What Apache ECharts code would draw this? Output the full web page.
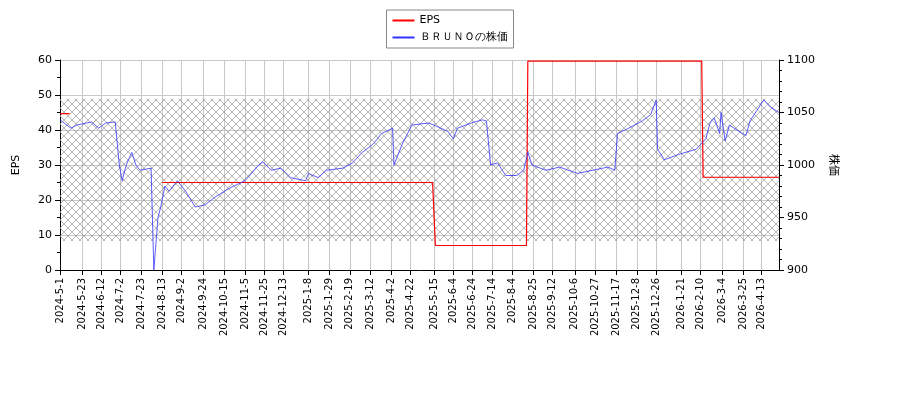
<!DOCTYPE html>
<html><head><meta charset="utf-8">
<script src="https://cdn.jsdelivr.net/npm/echarts@6/dist/echarts.min.js"></script>
<style>html,body{margin:0;background:#fff}#c{width:900px;height:400px}</style>
</head><body><div id="c"></div>
<script>
const tickLabels = ['2024-5-1','2024-5-23','2024-6-12','2024-7-2','2024-7-23','2024-8-13','2024-9-2','2024-9-24','2024-10-15','2024-11-5','2024-11-25','2024-12-13','2025-1-8','2025-1-29','2025-2-19','2025-3-12','2025-4-2','2025-4-22','2025-5-15','2025-6-4','2025-6-24','2025-7-14','2025-8-4','2025-8-25','2025-9-12','2025-10-6','2025-10-27','2025-11-17','2025-12-8','2025-12-26','2026-1-21','2026-2-10','2026-3-4','2026-3-25','2026-4-13'];
const priceDates = ['2024-5-1','2024-5-13','2024-5-17','2024-6-3','2024-6-10','2024-6-17','2024-6-26','2024-7-1','2024-7-3','2024-7-8','2024-7-12','2024-7-17','2024-7-22','2024-8-1','2024-8-5','2024-8-8','2024-8-12','2024-8-15','2024-8-20','2024-8-28','2024-9-5','2024-9-16','2024-9-25','2024-10-7','2024-10-21','2024-11-5','2024-11-19','2024-11-22','2024-12-2','2024-12-11','2024-12-20','2025-1-6','2025-1-8','2025-1-17','2025-1-27','2025-2-12','2025-2-21','2025-3-4','2025-3-14','2025-3-24','2025-4-3','2025-4-4','2025-4-14','2025-4-23','2025-5-9','2025-5-15','2025-5-29','2025-6-4','2025-6-9','2025-6-23','2025-7-3','2025-7-8','2025-7-11','2025-7-18','2025-7-28','2025-8-7','2025-8-14','2025-8-19','2025-8-22','2025-9-5','2025-9-19','2025-10-8','2025-10-23','2025-11-7','2025-11-14','2025-11-18','2025-11-28','2025-12-12','2025-12-22','2025-12-26','2025-12-29','2026-1-5','2026-1-19','2026-2-5','2026-2-16','2026-2-19','2026-2-24','2026-3-2','2026-3-3','2026-3-6','2026-3-11','2026-3-27','2026-4-1','2026-4-15','2026-4-22','2026-4-30'];
const priceValues = [1043,1035,1038,1041,1035,1040,1041,1000,985,1000,1012,1000,995,997,900,950,960,980,975,985,975,960,962,970,978,985,1000,1003,995,997,988,985,992,988,995,997,1002,1012,1020,1030,1035,1000,1020,1038,1040,1038,1032,1025,1035,1040,1043,1042,1000,1002,990,990,995,1012,1000,995,998,992,995,998,995,1030,1035,1042,1048,1062,1015,1005,1010,1015,1025,1040,1045,1030,1050,1023,1038,1028,1042,1062,1055,1050];
const epsDates = ['2024-5-1','2024-5-13','2024-8-13','2025-5-16','2025-8-19','2026-2-12'];
const epsValues = [44.7,null,25,7,59.7,26.5];

function key(s){const p=s.split('-').map(Number);return p[0]*10000+p[1]*100+p[2];}
const cats=[];
for(let d=new Date(Date.UTC(2024,4,1)); d<=new Date(Date.UTC(2026,3,30)); d.setUTCDate(d.getUTCDate()+1)){
  const w=d.getUTCDay(); if(w===0||w===6) continue;
  cats.push(d.getUTCFullYear()+'-'+(d.getUTCMonth()+1)+'-'+d.getUTCDate());
}
const catKeys=cats.map(key);
function idxOf(s){const k=key(s);for(let i=0;i<catKeys.length;i++) if(catKeys[i]>=k) return i;return catKeys.length-1;}
const price=new Array(cats.length).fill(null);
priceDates.forEach((d,i)=>{price[idxOf(d)]=priceValues[i];});
const eps=new Array(cats.length).fill(null);
const epsIdx=epsDates.map(idxOf);
for(let i=0;i<cats.length;i++){let v=null;for(let j=0;j<epsIdx.length;j++) if(epsIdx[j]<=i) v=epsValues[j]; eps[i]=v;}
const tickSet=new Set(tickLabels);

const pc=document.createElement('canvas');pc.width=8;pc.height=8;
const g=pc.getContext('2d');g.strokeStyle='#9a9a9a';g.lineWidth=0.7;
g.beginPath();g.moveTo(0,0);g.lineTo(8,8);g.moveTo(8,0);g.lineTo(0,8);g.stroke();

const font='DejaVu Sans';
const chart=echarts.init(document.getElementById('c'));
chart.setOption({
  animation:false,
  textStyle:{fontFamily:font},
  legend:{top:10,left:'center',orient:'vertical',itemWidth:22,itemHeight:2,itemGap:6,
    borderColor:'#888',borderWidth:1,padding:[5,6],textStyle:{fontSize:11,color:'#000'},
    data:[{name:'EPS',icon:'rect'},{name:'ＢＲＵＮＯの株価',icon:'rect'}]},
  grid:{left:60,right:121,top:60,bottom:130},
  xAxis:{type:'category',data:cats,boundaryGap:false,
    axisLine:{lineStyle:{color:'#000'}},
    axisTick:{interval:(i,v)=>tickSet.has(v),lineStyle:{color:'#000'}},
    axisLabel:{interval:(i,v)=>tickSet.has(v),rotate:90,fontSize:10,color:'#000'},
    splitLine:{show:true,interval:(i,v)=>tickSet.has(v),lineStyle:{color:'#c8c8c8'}}},
  yAxis:[
    {type:'value',min:0,max:60,interval:10,name:'EPS',nameLocation:'middle',nameGap:38,nameTextStyle:{fontSize:11,color:'#000'},
     axisLine:{show:true,lineStyle:{color:'#000'}},axisTick:{show:true},minorTick:{show:true,splitNumber:2},
     axisLabel:{color:'#000',fontSize:11},splitLine:{lineStyle:{color:'#c8c8c8'}}},
    {type:'value',min:900,max:1100,interval:50,name:'株価',nameLocation:'middle',nameGap:50,nameRotate:-90,
     nameTextStyle:{fontSize:11,color:'#000',fontFamily:'Noto Sans CJK JP'},
     axisLine:{show:true,lineStyle:{color:'#000'}},axisTick:{show:true},minorTick:{show:true,splitNumber:5},
     axisLabel:{color:'#000',fontSize:11,formatter:v=>String(v)},splitLine:{show:false}}
  ],
  series:[
    {name:'EPS',type:'line',yAxisIndex:0,data:eps,showSymbol:false,connectNulls:false,
     lineStyle:{color:'#ff0000',width:1.2},itemStyle:{color:'#ff0000'},
     markArea:{silent:true,itemStyle:{color:{image:pc,repeat:'repeat'}},data:[[{yAxis:49},{yAxis:8.3}]]}},
    {name:'ＢＲＵＮＯの株価',type:'line',yAxisIndex:1,data:price,showSymbol:false,connectNulls:true,
     lineStyle:{color:'#3333ff',width:0.8},itemStyle:{color:'#3333ff'}}
  ]
});
</script></body></html>
